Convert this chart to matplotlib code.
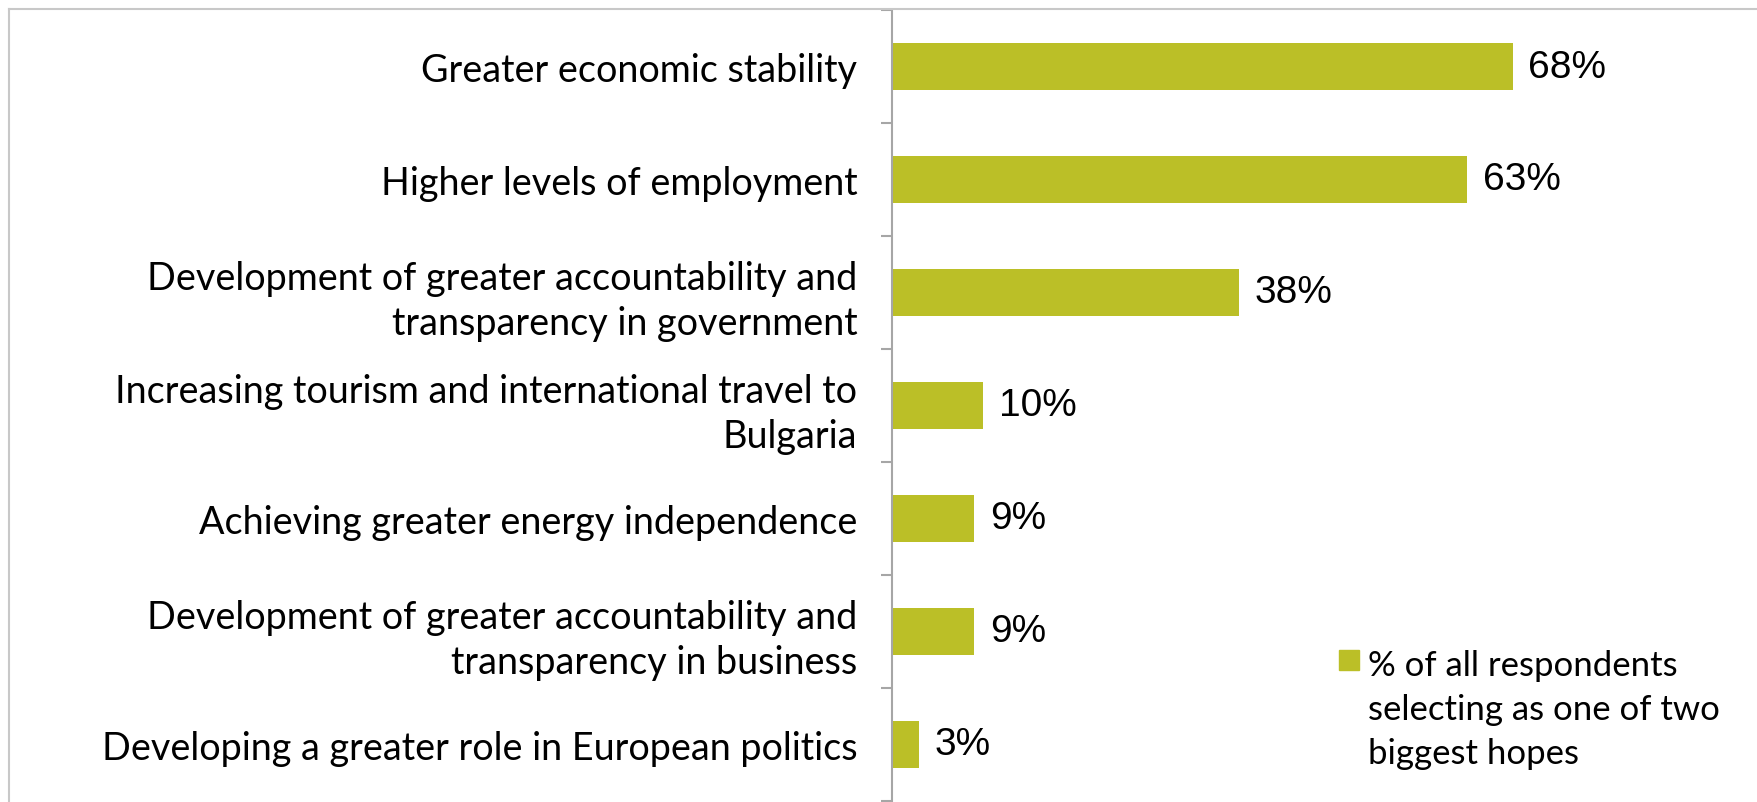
import matplotlib.pyplot as plt
from matplotlib.lines import Line2D
from matplotlib.patches import Rectangle

categories = [
    'Greater economic stability',
    'Higher levels of employment',
    'Development of greater accountability and\ntransparency in government',
    'Increasing tourism and international travel to\nBulgaria',
    'Achieving greater energy independence',
    'Development of greater accountability and\ntransparency in business',
    'Developing a greater role in European politics',
]
values = [68, 63, 38, 10, 9, 9, 3]
legend_label = '% of all respondents\nselecting as one of two\nbiggest hopes'

bar_color = '#bbbf27'
W, H = 1757, 803

fig = plt.figure(figsize=(W / 100, H / 100), dpi=100)
ax = fig.add_axes([892 / W, 1 / H, (W - 892) / W, (802 - 11) / H])

pos = list(range(len(categories)))
ax.barh(pos, values, height=0.41, color=bar_color)
for p, v in zip(pos, values):
    ax.text(v + 1.7, p, f'{v}%', va='center', ha='left', fontsize=28,
            family='Liberation Sans', color='black')

ax.set_xlim(0, (W - 892) / 9.13)
ax.set_ylim(len(categories) - 0.5, -0.5)

ax.set_yticks(pos)
ax.set_yticklabels(categories, fontsize=27.2, family='Lato', ha='right',
                   linespacing=1.3)
ax.tick_params(axis='y', which='major', length=0, pad=25)
ax.set_yticks([p + 0.5 for p in range(-1, len(categories))], minor=True)
ax.tick_params(axis='y', which='minor', length=8, width=1.5, color='#a6a6a6')
ax.set_xticks([])

for side in ['top', 'right', 'bottom']:
    ax.spines[side].set_visible(False)
ax.spines['left'].set_color('#a6a6a6')
ax.spines['left'].set_linewidth(1.5)

# outer frame lines on top and left
frame = '#c8c8c8'
fig.add_artist(Line2D([9 / W, 1], [1 - 10 / H, 1 - 10 / H], color=frame, lw=1.5,
                      transform=fig.transFigure))
fig.add_artist(Line2D([9 / W, 9 / W], [0, 1 - 10 / H], color=frame, lw=1.5,
                      transform=fig.transFigure))

# legend
fig.add_artist(Rectangle((1339 / W, 1 - 671 / H), 20 / W, 20 / H, color=bar_color,
                         transform=fig.transFigure))
fig.text(1368 / W, 1 - 650 / H, legend_label, ha='left', va='top',
         fontsize=25, family='Lato', linespacing=1.47)

fig.savefig('out.png', dpi=100)
